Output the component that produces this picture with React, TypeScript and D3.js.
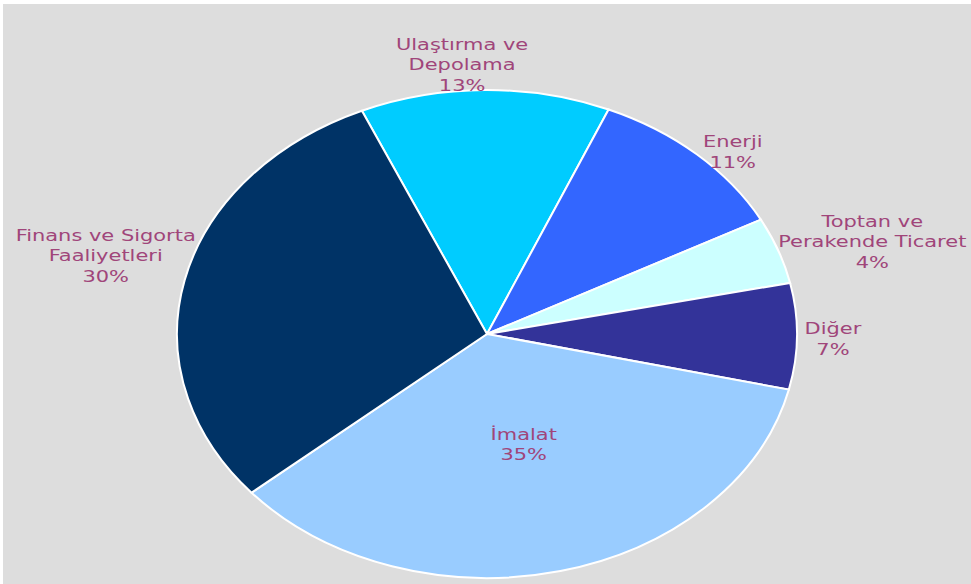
import React from "react";
import * as d3 from "d3";

// ---- data ----
const categories = [
  "Ulaştırma ve Depolama",
  "Enerji",
  "Toptan ve Perakende Ticaret",
  "Diğer",
  "İmalat",
  "Finans ve Sigorta Faaliyetleri",
];
const values = [13, 10.8, 4.4, 7, 35, 29.6];
const labelLines = [
  ["Ulaştırma ve", "Depolama"],
  ["Enerji"],
  ["Toptan ve", "Perakende Ticaret"],
  ["Diğer"],
  ["İmalat"],
  ["Finans ve Sigorta", "Faaliyetleri"],
];
const colors = ["#00ccff", "#3366ff", "#ccffff", "#333399", "#99ccff", "#003366"];

// ---- layout ----
const W = 971;
const H = 584;
const cx = 487;
const cy = 334;
const rx = 310;
const ry = 244;
const startDeg = -23.8;
const sx = rx / ry;
const lineH = 20.5;
const fontSize = 16.5;
const labelColor = "#a0457a";
// label layout: radius factor along mid-angle, pixel offset (dx, first-baseline dy)
const labelLayout = [
  { f: 1, dx: -23, dy: -40.5 },
  { f: 1, dx: 36, dy: -7 },
  { f: 1, dx: 94, dy: -23.5 },
  { f: 1, dx: 36, dy: -2 },
  { f: 0.5, dx: 0, dy: -13 },
  { f: 1, dx: -79, dy: -39 },
];

export default function App() {
  const start = (startDeg * Math.PI) / 180;
  const pie = d3
    .pie<number>()
    .sort(null)
    .value((d) => d)
    .startAngle(start)
    .endAngle(start + 2 * Math.PI);
  const arcs = pie(values);
  const arc = d3.arc<d3.PieArcDatum<number>>().innerRadius(0).outerRadius(ry);
  const total = d3.sum(values);

  return (
    <svg
      width={W}
      height={H}
      style={{ position: "absolute", left: 0, top: 0 }}
      fontFamily="'DejaVu Sans', Verdana, sans-serif"
    >
      <rect x={0} y={0} width={W} height={H} fill="#ffffff" />
      <rect x={3} y={4} width={W - 3} height={H - 4} fill="#dddddd" />
      <g transform={`translate(${cx},${cy}) scale(${sx},1)`}>
        {arcs.map((a, i) => (
          <path
            key={categories[i]}
            d={arc(a) || ""}
            fill={colors[i]}
            stroke="#ffffff"
            strokeWidth={2}
            vectorEffect="non-scaling-stroke"
          />
        ))}
      </g>
      {arcs.map((a, i) => {
        const mid = (a.startAngle + a.endAngle) / 2;
        const L = labelLayout[i];
        const px = cx + rx * L.f * Math.sin(mid) + L.dx;
        const py = cy - ry * L.f * Math.cos(mid) + L.dy;
        const pct = Math.round((values[i] / total) * 100) + "%";
        const lines = [...labelLines[i], pct];
        return (
          <g key={"l" + i} transform={`translate(${px},${py}) scale(1.27,1)`}>
            <text
              textAnchor="middle"
              fontSize={fontSize}
              fill={labelColor}
            >
              {lines.map((t, j) => (
                <tspan key={j} x={0} y={j * lineH}>
                  {t}
                </tspan>
              ))}
            </text>
          </g>
        );
      })}
    </svg>
  );
}
